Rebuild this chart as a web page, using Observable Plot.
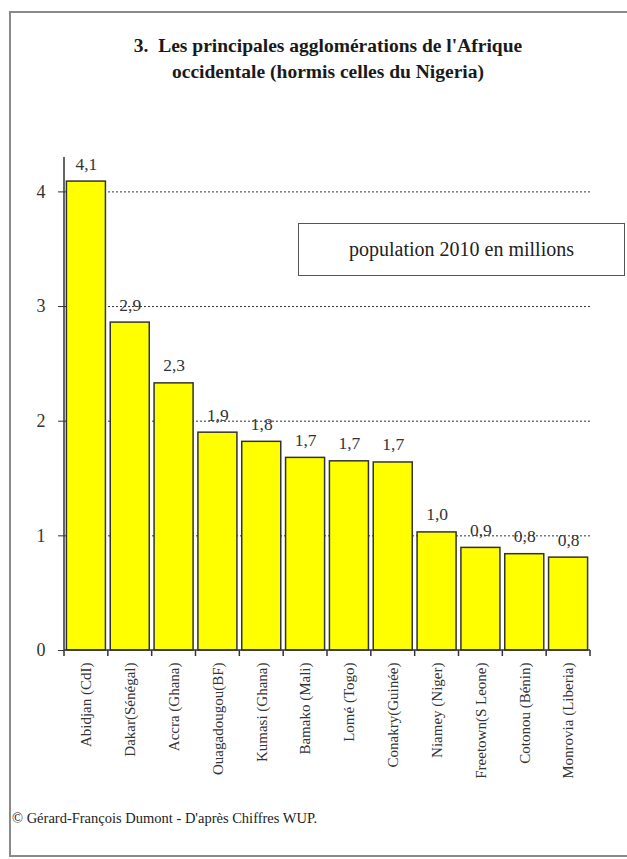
<!DOCTYPE html>
<html><head><meta charset="utf-8">
<script src="https://cdn.jsdelivr.net/npm/d3@7"></script>
<script src="https://cdn.jsdelivr.net/npm/@observablehq/plot@0.6"></script>
<style>
body{margin:0;background:#fff;}
#page{position:relative;width:627px;height:859px;overflow:hidden;font-family:"Liberation Serif","Times New Roman",serif;color:#222;background:#fff;}
#frame{position:absolute;left:9px;top:11px;width:700px;height:846px;border:2px solid #8a8a8a;border-right:none;box-sizing:border-box;}
#title{position:absolute;left:0;top:33px;width:656px;text-align:center;font-weight:bold;font-size:19.5px;line-height:26px;color:#1a1a1a;}
#chart{position:absolute;left:0;top:130px;}
#legend{position:absolute;left:298px;top:223px;width:327px;height:53px;border:1.5px solid #555;box-sizing:border-box;display:flex;align-items:center;justify-content:center;font-size:20px;color:#222;background:#fff;}
#credit{position:absolute;left:12px;top:810px;font-size:14.5px;color:#222;}
</style></head>
<body>
<div id="page">
  <div id="frame"></div>
  <div id="title">3.&nbsp; Les principales agglomérations de l'Afrique<br>occidentale (hormis celles du Nigeria)</div>
  <div id="chart"></div>
  <div id="legend">population 2010 en millions</div>
  <div id="credit">© Gérard-François Dumont - D'après Chiffres WUP.</div>
</div>
<script>
const cities = ["Abidjan (CdI)","Dakar(Sénégal)","Accra (Ghana)","Ouagadougou(BF)","Kumasi (Ghana)","Bamako (Mali)","Lomé (Togo)","Conakry(Guinée)","Niamey (Niger)","Freetown(S Leone)","Cotonou (Bénin)","Monrovia (Liberia)"];
const population = [4.09, 2.86, 2.33, 1.90, 1.82, 1.68, 1.65, 1.64, 1.03, 0.895, 0.84, 0.81];
const valueLabels = ["4,1","2,9","2,3","1,9","1,8","1,7","1,7","1,7","1,0","0,9","0,8","0,8"];
const yTicks = [0, 1, 2, 3, 4];
const gridTicks = [1, 2, 3, 4];

const data = cities.map((c, i) => ({city: c, pop: population[i], label: valueLabels[i]}));

function excelAxes(index, scales, values, dims) {
  const ns = "http://www.w3.org/2000/svg";
  const g = document.createElementNS(ns, "g");
  const x0 = dims.marginLeft, x1 = dims.width - dims.marginRight;
  const yb = dims.height - dims.marginBottom, yt = dims.marginTop;
  const n = cities.length, step = (x1 - x0) / n;
  const line = (a, b, c, d) => {
    const l = document.createElementNS(ns, "line");
    l.setAttribute("x1", a); l.setAttribute("y1", b); l.setAttribute("x2", c); l.setAttribute("y2", d);
    l.setAttribute("stroke", "#333"); l.setAttribute("stroke-width", 1.5);
    g.appendChild(l);
  };
  line(x0, yt, x0, yb);
  line(x0, yb, x1, yb);
  for (let i = 0; i <= n; i++) line(x0 + i * step, yb, x0 + i * step, yb + 6);
  return g;
}

const chart = Plot.plot({
  width: 627,
  height: 650,
  marginLeft: 64,
  marginRight: 37,
  marginTop: 27,
  marginBottom: 130,
  style: {fontFamily: "'Liberation Serif', 'Times New Roman', serif", color: "#333", background: "transparent"},
  x: {domain: cities, paddingInner: 0.11, paddingOuter: 0.055, round: false, label: null},
  y: {domain: [0, 4.3], label: null},
  marks: [
    Plot.gridY(gridTicks, {stroke: "#333", strokeOpacity: 1, strokeDasharray: "2,2", strokeWidth: 1}),
    Plot.barY(data, {x: "city", y: "pop", fill: "#ffff00", stroke: "#333", strokeWidth: 1.5}),
    Plot.text(data, {x: "city", y: "pop", text: "label", lineAnchor: "bottom", dy: -12, fontSize: 17.5, fill: "#333"}),
    Plot.axisY(yTicks, {tickSize: 6, tickPadding: 13, fontSize: 18, tickFormat: d => String(d), label: null, stroke: "#333"}),
    Plot.axisX({tickRotate: -90, tickSize: 0, tickPadding: 12, fontSize: 15, label: null}),
    excelAxes
  ]
});
document.getElementById("chart").appendChild(chart);
</script>
</body></html>
